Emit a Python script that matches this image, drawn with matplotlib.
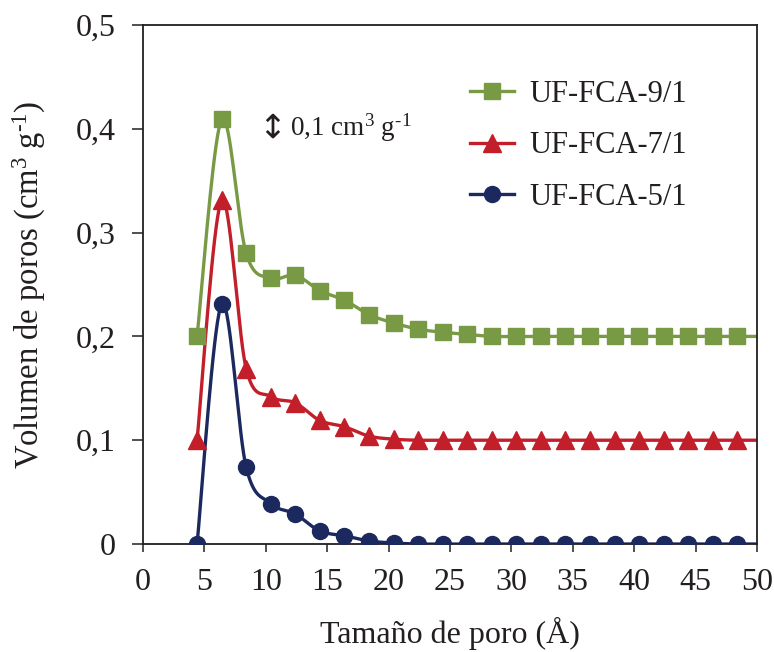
import numpy as np
import matplotlib
matplotlib.use('Agg')
import matplotlib.pyplot as plt

plt.rcParams['font.family'] = ['Liberation Serif', 'DejaVu Sans']
plt.rcParams['mathtext.fontset'] = 'custom'
plt.rcParams['mathtext.rm'] = 'Liberation Serif'
plt.rcParams['mathtext.it'] = 'Liberation Serif:italic'

# pore size (A), last point lies past the axis edge (no marker shown)
size = [4.4, 6.4, 8.4, 10.4, 12.4, 14.4, 16.4, 18.4, 20.4, 22.4, 24.4, 26.4,
        28.4, 30.4, 32.4, 34.4, 36.4, 38.4, 40.4, 42.4, 44.4, 46.4, 48.4, 50.4]
fca9 = [0.200, 0.409, 0.280, 0.256, 0.259, 0.244, 0.235, 0.221, 0.213, 0.207,
        0.204, 0.202, 0.200, 0.200, 0.200, 0.200, 0.200, 0.200, 0.200, 0.200,
        0.200, 0.200, 0.200, 0.200]
fca7 = [0.100, 0.331, 0.169, 0.142, 0.136, 0.119, 0.113, 0.104, 0.101, 0.100,
        0.100, 0.100, 0.100, 0.100, 0.100, 0.100, 0.100, 0.100, 0.100, 0.100,
        0.100, 0.100, 0.100, 0.100]
fca5 = [0.000, 0.231, 0.074, 0.039, 0.029, 0.0125, 0.008, 0.003, 0.001, 0.000,
        0.000, 0.000, 0.000, 0.000, 0.000, 0.000, 0.000, 0.000, 0.000, 0.000,
        0.000, 0.000, 0.000, 0.000]
labels = ['UF-FCA-9/1', 'UF-FCA-7/1', 'UF-FCA-5/1']
xticks = [0, 5, 10, 15, 20, 25, 30, 35, 40, 45, 50]
yticks = [0, 0.1, 0.2, 0.3, 0.4, 0.5]
ylabels = ['0', '0,1', '0,2', '0,3', '0,4', '0,5']


def smooth(x, y, n=20):
    # catmull-rom style smoothing like excel's smoothed lines
    p = np.column_stack([x, y]).astype(float)
    p = np.vstack([p[0], p, p[-1]])
    out = []
    t = np.linspace(0, 1, n)[:, None]
    for i in range(1, len(p) - 2):
        p0, p1, p2, p3 = p[i - 1], p[i], p[i + 1], p[i + 2]
        b1 = p1 + (p2 - p0) / 6
        b2 = p2 - (p3 - p1) / 6
        seg = ((1 - t) ** 3) * p1 + 3 * ((1 - t) ** 2) * t * b1 + 3 * (1 - t) * t ** 2 * b2 + t ** 3 * p2
        out.append(seg)
    s = np.vstack(out)
    return s[:, 0], s[:, 1]


fig = plt.figure(figsize=(7.74, 6.52), dpi=100)
ax = fig.add_axes([0.1848, 0.1656, 0.7932, 0.7961])

series = [(fca9, '#799A45', 's', 12), (fca7, '#C21F2A', '^', 12.5), (fca5, '#1C295E', 'o', 11.5)]
for (vals, col, mk, ms), lab in zip(series, labels):
    sx, sy = smooth(size, vals)
    ax.plot(sx, sy, color=col, lw=2.4, zorder=2)
    ax.plot(size[:-1], vals[:-1], ls='none', marker=mk, ms=ms, color=col, zorder=3)
    ax.plot([], [], color=col, lw=2.4, marker=mk, ms=ms, label=lab)

ax.set_xlim(0, 50)
ax.set_ylim(0, 0.5)
ax.set_xticks(xticks)
ax.set_yticks(yticks)
ax.set_yticklabels(ylabels)
ax.tick_params(direction='out', width=1.1, labelsize=23, colors='#231F20')
ax.tick_params(axis='x', length=6, pad=11)
ax.tick_params(axis='y', length=8, pad=12)
for sp in ax.spines.values():
    sp.set_linewidth(1.3)
    sp.set_color('#231F20')

ax.set_xlabel('Tamaño de poro (Å)', fontsize=23, color='#231F20')
ax.set_ylabel(r'Volumen de poros (cm$^{3}$ g$^{\text{-1}}$)', fontsize=23.5, color='#231F20')
ax.xaxis.set_label_coords(0.5, -0.141)
ax.yaxis.set_label_coords(-0.155, 0.5)

ax.text(10.5, 0.401, '↕', fontsize=24, ha='center', va='center', family=['DejaVu Sans'], color='#231F20')
ax.text(12.0, 0.401, r'0,1 cm$^{3}$ g$^{\text{-1}}$', fontsize=19.5, ha='left', va='center', color='#231F20')

leg = ax.legend(loc='upper left', bbox_to_anchor=(0.507, 0.924), frameon=False, fontsize=22,
                handlelength=1.47, handletextpad=0.5, labelspacing=0.74, borderpad=0)
for t in leg.get_texts():
    t.set_color('#231F20')

fig.savefig('out.png', dpi=100)
